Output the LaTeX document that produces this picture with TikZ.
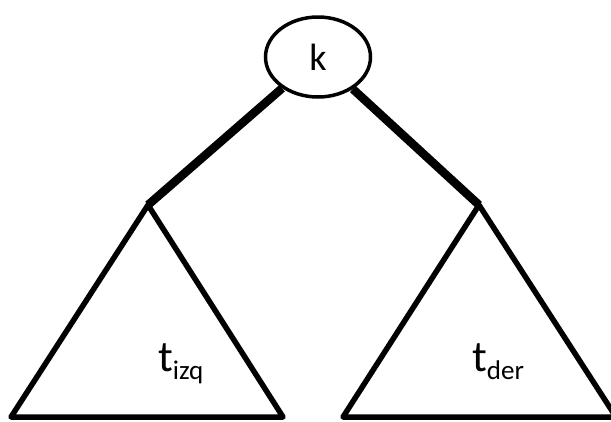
\documentclass[tikz,border=0pt]{standalone}
\usepackage{fontspec}
\setmainfont{Carlito}
\usetikzlibrary{shapes.geometric}
\newcommand{\subtxt}[1]{\raisebox{-8pt}{\fontsize{27}{29}\selectfont #1}}
\begin{document}
\begin{tikzpicture}[x=1pt,y=-1pt,
  keynode/.style={draw,ellipse,line width=3.5pt,minimum width=105pt,minimum height=80pt,inner sep=0pt,font=\fontsize{38}{40}\selectfont},
  tri/.style={line width=5.5pt,line join=round},
  edge/.style={line width=8.5pt},
  lbl/.style={font=\fontsize{44}{46}\selectfont,inner sep=0pt,anchor=base west}]
\useasboundingbox (0,0) rectangle (611,421);
\node[keynode] (k) at (318,57) {k};
\coordinate (la) at (148,205);
\coordinate (ra) at (479,205);
\coordinate (lb1) at (11,417);
\coordinate (lb2) at (283,417);
\coordinate (rb1) at (343,417);
\coordinate (rb2) at (616,417);
\draw[tri] (la) -- (lb1) -- (lb2) -- cycle;
\draw[tri] (ra) -- (rb1) -- (rb2) -- cycle;
\draw[edge] (k) -- (la);
\draw[edge] (k) -- (ra);
\node[lbl] (tl) at (158,371) {t\subtxt{izq}};
\node[lbl] (tr) at (472,371) {t\subtxt{der}};
\end{tikzpicture}
\end{document}
